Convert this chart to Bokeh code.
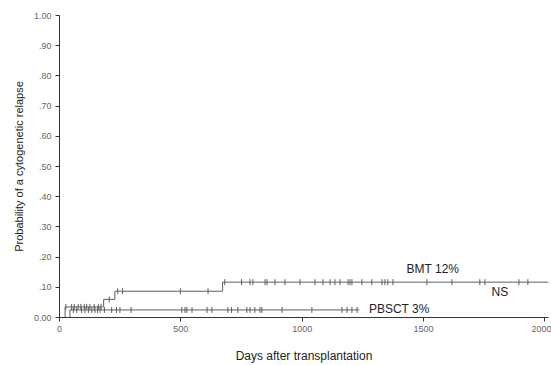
from bokeh.plotting import figure
from bokeh.models import Range1d, FixedTicker, Label
from bokeh.embed import file_html
from bokeh.resources import INLINE
import numpy as np

# ---- data ----
bmt_event_days = [0, 23, 182, 228, 672]
bmt_event_vals = [0.0, 0.035, 0.06, 0.087, 0.117]
bmt_last_day = 2015
bmt_censor_days = [26, 50, 61, 77, 88, 102, 112, 125, 143, 160, 171, 205, 240, 260,
                   498, 612, 681, 750, 785, 797, 847, 855, 888, 929, 991, 1053, 1086,
                   1115, 1135, 1156, 1189, 1197, 1205, 1246, 1287, 1329, 1341, 1353,
                   1374, 1514, 1617, 1732, 1753, 1893, 1930]

pb_event_days = [0, 43]
pb_event_vals = [0.0, 0.025]
pb_last_day = 1235
pb_censor_days = [57, 71, 91, 105, 119, 133, 146, 157, 167, 185, 215, 235, 249, 295,
                  504, 517, 525, 546, 608, 628, 694, 709, 735, 772, 785, 805, 826, 834,
                  917, 1040, 1164, 1185, 1205, 1226]

y_ticks = [0.0, 0.1, 0.2, 0.3, 0.4, 0.5, 0.6, 0.7, 0.8, 0.9, 1.0]
y_tick_labels = ["0.00", ".10", ".20", ".30", ".40", ".50", ".60", ".70", ".80", ".90", "1.00"]
x_ticks = [0, 500, 1000, 1500, 2000]

FONT = "Liberation Sans"
LINE = "#5e5e5e"
AX = "#333333"

p = figure(width=551, height=365, output_backend="svg", toolbar_location=None,
           x_range=Range1d(0, 2015), y_range=Range1d(0, 1.0),
           min_border_left=59, min_border_right=3, min_border_top=15, min_border_bottom=39)
p.outline_line_color = None
p.grid.visible = False
p.background_fill_color = "white"
p.border_fill_color = "white"


def curve(days, vals, last):
    xs = list(days) + [last]
    ys = list(vals) + [vals[-1]]
    return xs, ys


def value_at(days, vals, t):
    idx = np.searchsorted(np.array(days), t, side="right") - 1
    return vals[idx]


for ed, ev, last, cd in [(bmt_event_days, bmt_event_vals, bmt_last_day, bmt_censor_days),
                         (pb_event_days, pb_event_vals, pb_last_day, pb_censor_days)]:
    xs, ys = curve(ed, ev, last)
    p.step(xs, ys, mode="after", line_color=LINE, line_width=1)
    cy = [value_at(ed, ev, t) for t in cd]
    p.scatter(cd, cy, marker="dash", angle=np.pi / 2, size=6, line_color=LINE, line_width=1)

# axes
p.yaxis.ticker = FixedTicker(ticks=y_ticks)
p.yaxis.major_label_overrides = {t: l for t, l in zip(y_ticks, y_tick_labels)}
p.xaxis.ticker = FixedTicker(ticks=x_ticks)
for ax in (p.xaxis, p.yaxis):
    ax.minor_tick_line_color = None
    ax.major_tick_in = 0
    ax.major_tick_out = 4
    ax.axis_line_color = AX
    ax.major_tick_line_color = AX
    ax.major_label_text_font = FONT
    ax.major_label_text_font_size = "9px"
    ax.major_label_text_color = "#666666"
    ax.axis_label_text_font = FONT
    ax.axis_label_text_font_style = "normal"
    ax.axis_label_text_color = "#222222"
p.yaxis.axis_label_text_font_size = "11px"
p.xaxis.axis_label_text_font_size = "12px"
p.yaxis.major_label_standoff = 4
p.xaxis.major_label_standoff = 4
p.yaxis.axis_label = "Probability of a cytogenetic relapse"
p.xaxis.axis_label = "Days after transplantation"
p.yaxis.axis_label_standoff = 6
p.xaxis.axis_label_standoff = 14

for txt, x, y in [("BMT 12%", 1430, 0.162), ("NS", 1780, 0.083), ("PBSCT 3%", 1275, 0.027)]:
    p.add_layout(Label(x=x, y=y, text=txt, text_font=FONT, text_font_size="12px",
                       text_color="#222222", text_baseline="middle"))

open("out.html", "w").write(file_html(p, INLINE))
